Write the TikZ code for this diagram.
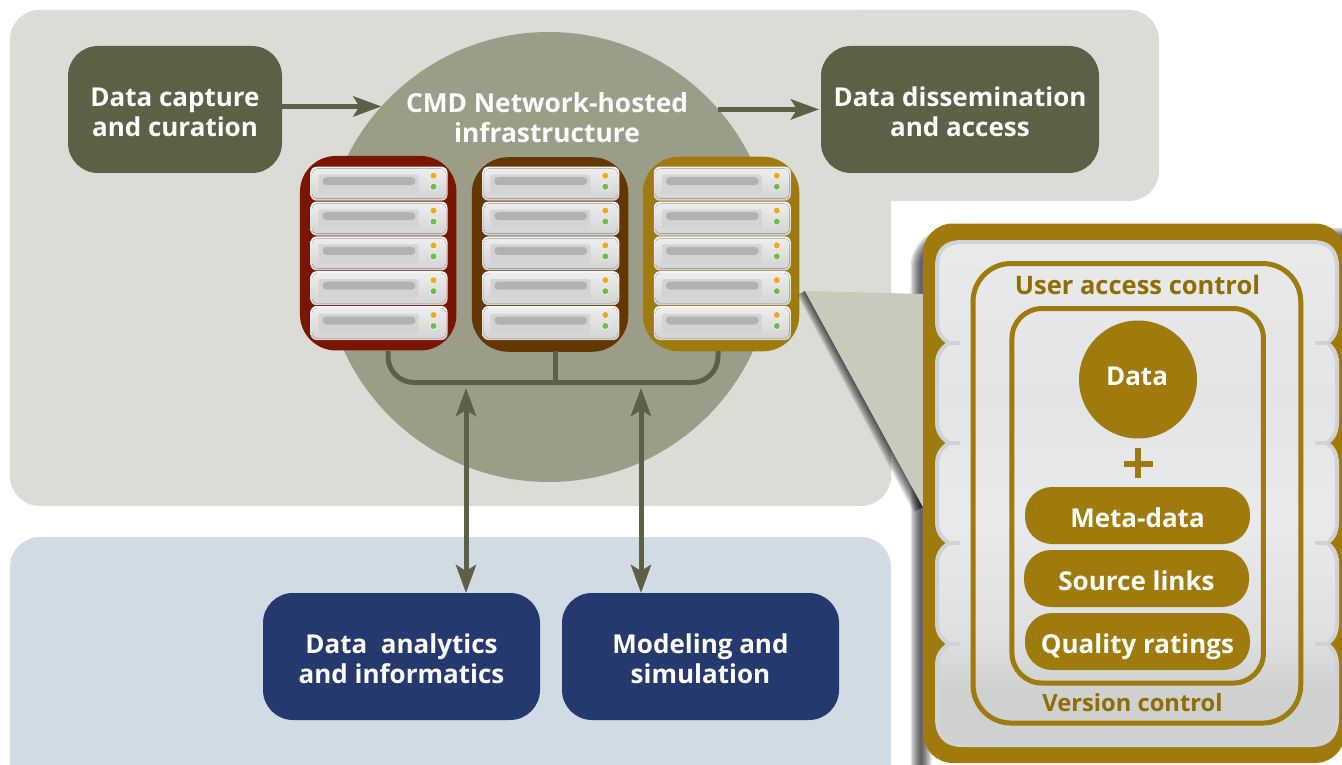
\documentclass[tikz,border=0pt]{standalone}
\usepackage{fontspec}
\setmainfont{Open Sans}
\usetikzlibrary{arrows.meta,shapes.geometric}
\definecolor{panelc}{HTML}{DBDCD5}
\definecolor{bluec}{HTML}{D1DBE6}
\definecolor{hubc}{HTML}{9C9D88}
\definecolor{olive}{HTML}{5D5F46}
\definecolor{navy}{HTML}{26396F}
\definecolor{gold}{HTML}{9E7B0C}
\definecolor{goldtext}{HTML}{8F6D00}
\definecolor{rackred}{HTML}{7A1500}
\definecolor{rackbrown}{HTML}{643600}
\definecolor{wedgec}{HTML}{C9CABC}
\definecolor{edgec}{HTML}{D0D2D5}
\definecolor{pa}{HTML}{E8E9EB}
\definecolor{pb}{HTML}{E2E4E6}
\definecolor{pc}{HTML}{E9EAEC}
\definecolor{pd}{HTML}{CFD0D0}
\definecolor{pe}{HTML}{DEDFE0}
\definecolor{ledo}{HTML}{F0A81E}
\definecolor{ledg}{HTML}{6CBE45}
\newcommand{\toplift}{\rule{0pt}{24pt}}
\pgfdeclareverticalshading{panelg}{100bp}{color(0bp)=(pd); color(30.6bp)=(pd); color(35.5bp)=(pe); color(47.5bp)=(pc); color(59.5bp)=(pb); color(74bp)=(pa); color(100bp)=(pa)}
\tikzset{
  x=1pt,y=-1pt,
  box/.style={rounded corners=30pt,minimum width=#1,minimum height=127pt,inner sep=0pt,outer sep=0pt,
     text=white,align=center,font=\fontsize{26}{30}\selectfont\bfseries},
  olivebox/.style={box=#1,fill=olive},
  navybox/.style={box=#1,fill=navy},
  rackbox/.style={rounded corners=36pt,minimum width=156.5pt,minimum height=194.5pt,inner sep=0pt,outer sep=0pt,fill=#1},
  pill/.style={rounded corners=27pt,minimum width=225pt,minimum height=57pt,inner sep=0pt,outer sep=0pt,fill=gold,
     text=white,text height=23pt,text depth=0pt,font=\fontsize{26}{30}\selectfont\bfseries},
  goldlabel/.style={text=goldtext,inner sep=0pt,font=\fontsize{25.5}{30}\selectfont\bfseries},
  link/.style={draw=olive,line width=5pt},
  flow/.style={link,-{Stealth[length=28pt,width=20pt,inset=6pt]}},
  flowboth/.style={link,{Stealth[length=28pt,width=20pt,inset=6pt]}-{Stealth[length=28pt,width=20pt,inset=6pt]}},
  frameline/.style={draw=gold,line width=5pt},
  srv/.pic={
    \shade[top color=white!92!gray,bottom color=black!18,rounded corners=6pt] (0,0) rectangle (137,34);
    \fill[top color=black!7,bottom color=black!17,rounded corners=5pt] (1.5,2) rectangle (135.5,32);
    \fill[black!17,rounded corners=1.5pt] (8,8) rectangle (108,27);
    \fill[black!30,rounded corners=4pt] (12,10.5) rectangle (105,18.5);
    \fill[white!90!gray] (123,9) circle (3.8pt);
    \fill[white!90!gray] (123,20) circle (3.8pt);
    \fill[ledo] (123,9) circle (3pt);
    \fill[ledg] (123,20) circle (3pt);
  },
}
\begin{document}
\begin{tikzpicture}
\useasboundingbox (0,0) rectangle (1342,765);
\fill[white] (0,0) rectangle (1342,765);
% background panels
\fill[panelc,rounded corners=30pt] (10,10) rectangle (1159,201);
\fill[panelc,rounded corners=30pt] (10,10) rectangle (891,506);
\fill[bluec,rounded corners=30pt] (10,537) rectangle (891,800);
% hub
\node[circle,fill=hubc,minimum size=450pt,inner sep=0pt,outer sep=0pt] (hub) at (548.6,257) {};
\node[text=white,align=center,inner sep=0pt,font=\fontsize{26.3}{30}\selectfont\bfseries] (hubtext) at (547,117.5) {CMD Network-hosted\\infrastructure};
% boxes
\node[olivebox=214pt] (capture) at (175,109.5) {\toplift Data capture\\and curation};
\node[olivebox=278pt] (dissem) at (960,109.5) {\toplift Data dissemination\\and access};
\node[navybox=277pt] (analytics) at (401.5,656.5) {\toplift Data\ \ analytics\\and informatics};
\node[navybox=277pt] (modeling) at (700.5,656.5) {\toplift Modeling and\\simulation};
% racks
\node[rackbox=rackred] (rackA) at (378.2,253.2) {};
\node[rackbox=rackbrown] (rackB) at (550,254.5) {};
\node[rackbox=gold] (rackC) at (721,254) {};
\foreach \y in {166.7,201.6,236.4,271.2,306}{
  \pic at (310.5,\y) {srv};
  \pic at (482.3,\y) {srv};
  \pic at (653.8,\y) {srv};
}
% connectors
\coordinate (upA) at (466,388);
\coordinate (upB) at (641,388);
\coordinate (stem) at (555,351);
\draw[link,rounded corners=26pt] (388,351) |- (718,382.5) -- (718,351);
\draw[link] (stem) -- (stem |- 0,382.5);
\draw[flow] (capture.east |- hub.138.5) -- (hub.138.5);
\draw[flow] (hub.41.5) -- ([xshift=-2pt]dissem.west |- hub.41.5);
\draw[flowboth] (upA) -- (upA |- analytics.north);
\draw[flowboth] (upB) -- (upB |- modeling.north);
% shadows
\foreach \w in {3,6,9,12,15,18,21}
  \draw[black,opacity=.12,line width=\w pt,rounded corners=30pt] (921,238) rectangle (1390,800);
\foreach \k in {1.5,3,4.5,6,7.5,9,10.5}
  \fill[black,opacity=.12] (805,291) -- ({805-.88*\k*.8},{291+.48*\k*.8}) -- ({923-.88*\k},{507+.48*\k}) -- (923,507) -- cycle;
% wedge
\fill[wedgec] (805,291) -- (924,294) -- (924,509) -- cycle;
% detail panel
\fill[gold,rounded corners=30pt] (923,223.5) rectangle (1345,763);
\shade[shading=panelg,draw=edgec,line width=4pt,line join=round]
  (962,242) -- (1312,242) .. controls (1329,242) and (1337,250) .. (1337,267)
  -- (1337,322) .. controls (1337,335) and (1331,340) .. (1327,343) .. controls (1331,346) and (1337,351) .. (1337,364)
  -- (1337,422) .. controls (1337,435) and (1331,440) .. (1327,443) .. controls (1331,446) and (1337,451) .. (1337,464)
  -- (1337,522) .. controls (1337,535) and (1331,540) .. (1327,543) .. controls (1331,546) and (1337,551) .. (1337,564)
  -- (1337,623) .. controls (1337,636) and (1331,641) .. (1327,644) .. controls (1331,647) and (1337,652) .. (1337,665)
  -- (1337,718) .. controls (1337,735) and (1329,745) .. (1312,745)
  -- (962,745) .. controls (945,745) and (937,735) .. (937,718)
  -- (937,665) .. controls (937,652) and (945,647) .. (949,644) .. controls (945,641) and (937,636) .. (937,623)
  -- (937,564) .. controls (937,551) and (945,546) .. (949,543) .. controls (945,540) and (937,535) .. (937,522)
  -- (937,464) .. controls (937,451) and (945,446) .. (949,443) .. controls (945,440) and (937,435) .. (937,422)
  -- (937,364) .. controls (937,351) and (945,346) .. (949,343) .. controls (945,340) and (937,335) .. (937,322)
  -- (937,267) .. controls (937,250) and (945,242) .. (962,242) -- cycle;
\foreach \yy in {343,443,543,644}{
  \draw[edgec,line width=4.5pt] (948,\yy) -- (960,\yy);
  \draw[edgec,line width=4.5pt] (1315,\yy) -- (1328,\yy);
}
\node[rounded corners=38pt,frameline,minimum width=327.7pt,minimum height=459.5pt,inner sep=0pt,outer sep=0pt] (frameOuter) at (1136.9,493.3) {};
\node[rounded corners=30pt,frameline,minimum width=251.5pt,minimum height=374.5pt,inner sep=0pt,outer sep=0pt] (frameInner) at (1137.7,495.8) {};
\node[goldlabel] (access) at (1137.5,285) {User access control};
\node[goldlabel,font=\fontsize{23.7}{30}\selectfont\bfseries] (version) at (1132.5,703) {Version control};
\node[circle,fill=gold,minimum size=118pt,inner sep=0pt,outer sep=0pt] (data) at (1138,379.5) {};
\node[text=white,inner sep=0pt,font=\fontsize{26}{30}\selectfont\bfseries] (datatext) at (1137,376.5) {Data};
\fill[gold] (1135,448) rectangle (1141,478);
\fill[gold] (1124,460.5) rectangle (1153,466.5);
\node[pill] (meta) at (1137.5,515.5) {Meta-data};
\node[pill] (source) at (1136.5,578.5) {Source links};
\node[pill,text height=24pt] (quality) at (1137.5,641.5) {Quality ratings};
\end{tikzpicture}
\end{document}
